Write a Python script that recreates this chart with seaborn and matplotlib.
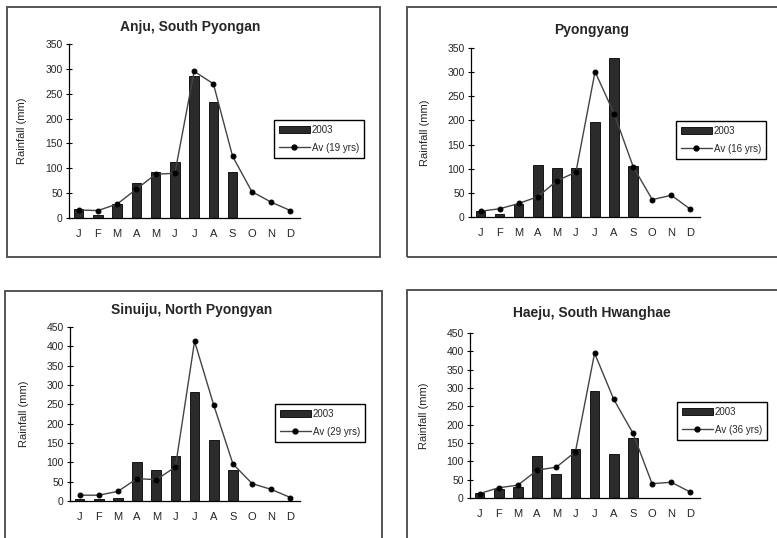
import numpy as np
import pandas as pd
import seaborn as sns
import matplotlib.pyplot as plt
from matplotlib.patches import Rectangle, Patch
from matplotlib.lines import Line2D

month_keys = ['Jan', 'Feb', 'Mar', 'Apr', 'May', 'Jun', 'Jul', 'Aug', 'Sep', 'Oct', 'Nov', 'Dec']
month_labels = ['J', 'F', 'M', 'A', 'M', 'J', 'J', 'A', 'S', 'O', 'N', 'D']

nan = np.nan
anju_2003 = [18, 7, 29, 70, 92, 112, 286, 233, 92, nan, nan, nan]
anju_avg = [16, 15, 28, 58, 88, 90, 295, 270, 124, 53, 32, 15]
pyongyang_2003 = [12, 6, 26, 108, 102, 101, 197, 329, 106, nan, nan, nan]
pyongyang_avg = [12, 17, 28, 42, 75, 93, 301, 214, 104, 36, 45, 16]
sinuiju_2003 = [5, 4, 8, 100, 81, 117, 282, 158, 81, nan, nan, nan]
sinuiju_avg = [15, 15, 25, 58, 55, 88, 413, 248, 96, 45, 30, 9]
haeju_2003 = [14, 25, 30, 115, 66, 135, 291, 119, 163, nan, nan, nan]
haeju_avg = [12, 28, 35, 76, 84, 126, 395, 269, 177, 39, 43, 16]

titles = ['Anju, South Pyongan', 'Pyongyang', 'Sinuiju, North Pyongyan', 'Haeju, South Hwanghae']
avg_labels = ['Av (19 yrs)', 'Av (16 yrs)', 'Av (29 yrs)', 'Av (36 yrs)']
ymaxes = [350, 350, 450, 450]

sns.set_style('white')
plt.rcParams['font.family'] = ['Liberation Sans', 'DejaVu Sans']

W, H = 777, 538
fig = plt.figure(figsize=(W / 100, H / 100), dpi=100)


def fbox(x0, y0, x1, y1):
    return [x0 / W, 1 - y1 / H, (x1 - x0) / W, (y1 - y0) / H]


# pixel layout: panel frame, axes, legend top-left, title centre
panels = [
    dict(frame=(7, 7, 380, 257), axes=(69, 44, 300, 218), leg=(274, 120), title=(190, 27)),
    dict(frame=(407, 7, 790, 257), axes=(471, 48, 700, 217), leg=(676, 121), title=(592, 30)),
    dict(frame=(5, 291, 382, 550), axes=(70, 327, 300, 501), leg=(275, 404), title=(192, 310)),
    dict(frame=(407, 290, 790, 550), axes=(470, 333, 700, 498), leg=(677, 402), title=(592, 313)),
]
series = [(anju_2003, anju_avg), (pyongyang_2003, pyongyang_avg),
          (sinuiju_2003, sinuiju_avg), (haeju_2003, haeju_avg)]

bar_color = '#2b2b2b'
line_color = '#444444'

for i, p in enumerate(panels):
    x0, y0, x1, y1 = p['frame']
    fig.patches.append(Rectangle((x0 / W, 1 - y1 / H), (x1 - x0) / W, (y1 - y0) / H,
                                 transform=fig.transFigure, fill=False,
                                 edgecolor='#555555', linewidth=1.4))

    ax = fig.add_axes(fbox(*p['axes']))
    df = pd.DataFrame({'month': month_keys, 'y2003': series[i][0], 'avg': series[i][1]})

    sns.barplot(data=df, x='month', y='y2003', order=month_keys, color=bar_color,
                saturation=1, width=0.5, edgecolor='black', linewidth=0.6, ax=ax)
    sns.pointplot(data=df, x='month', y='avg', order=month_keys, color=line_color,
                  markers='o', markersize=3.5, linewidth=1.0,
                  markerfacecolor='black', markeredgecolor='black', ax=ax)

    ax.set_xlim(-0.5, 11.5)
    ax.set_ylim(0, ymaxes[i])
    ax.set_yticks(np.arange(0, ymaxes[i] + 1, 50))
    ax.set_xticks(range(12))
    ax.set_xticklabels(month_labels)
    ax.set_xticks(np.arange(-0.5, 12, 1), minor=True)
    ax.tick_params(axis='x', which='major', length=0, labelsize=8, pad=8)
    ax.tick_params(axis='x', which='minor', direction='inout', length=5, width=0.8, color='black')
    ax.tick_params(axis='y', direction='inout', length=5, width=0.8, color='black',
                   labelsize=7.5, pad=2, left=True)
    ax.set_xlabel('')
    ax.set_ylabel('Rainfall (mm)', fontsize=8)
    ax.yaxis.set_label_coords(-0.18, 0.5)
    sns.despine(ax=ax)
    for s in ['left', 'bottom']:
        ax.spines[s].set_color('black')
        ax.spines[s].set_linewidth(0.9)

    tx, ty = p['title']
    fig.text(tx / W, 1 - ty / H, titles[i], ha='center', va='center',
             fontsize=10, fontweight='bold')

    handles = [Patch(facecolor=bar_color, edgecolor='black', linewidth=0.6),
               Line2D([0], [0], color=line_color, linewidth=1.0, marker='o',
                      markersize=3.5, markerfacecolor='black', markeredgecolor='black')]
    lx, ly = p['leg']
    leg = ax.legend(handles, ['2003', avg_labels[i]], loc='upper left',
                    bbox_to_anchor=(lx / W, 1 - ly / H), bbox_transform=fig.transFigure,
                    borderaxespad=0, fontsize=7, frameon=True, fancybox=False,
                    framealpha=1, edgecolor='black', handlelength=3.2,
                    handleheight=0.8, handletextpad=0.2, borderpad=0.5,
                    labelspacing=0.8)
    leg.get_frame().set_linewidth(1.0)

fig.savefig('out.png', dpi=100)
